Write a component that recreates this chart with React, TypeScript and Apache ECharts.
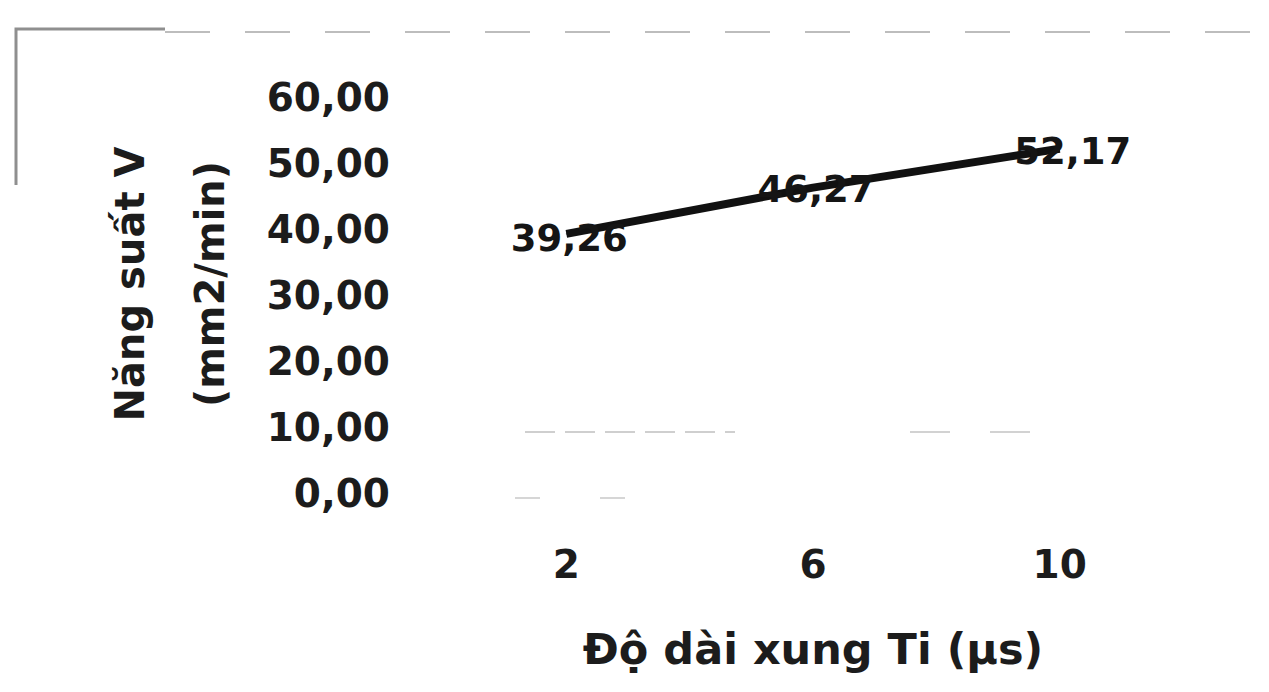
import React, { useEffect, useRef } from "react";
import * as echarts from "echarts";

// Pulse duration Ti (µs) and machining productivity V (mm2/min)
const categories: string[] = ["2", "6", "10"];
const productivity: number[] = [39.26, 46.27, 52.17];

const yMin = 0;
const yMax = 60;
const yStep = 10;

// per-point nudges for the value labels, in pixels
const labelOffsets: [number, number][] = [
  [3, 5],
  [3, 2],
  [13, 3],
];

const FONT = "DejaVu Sans";
const INK = "#1c1c1c";

const fmt = (v: number) => v.toFixed(2).replace(".", ",");

export default function App() {
  const ref = useRef<HTMLDivElement>(null);

  useEffect(() => {
    if (!ref.current) return;
    const chart = echarts.init(ref.current, undefined, { renderer: "svg" });
    chart.setOption({
      animation: false,
      backgroundColor: "#ffffff",
      grid: { left: 443, right: 86, top: 97, bottom: 199, containLabel: false },
      xAxis: {
        type: "category",
        data: categories,
        boundaryGap: true,
        axisLine: { show: false },
        axisTick: { show: false },
        splitLine: { show: false },
        axisLabel: {
          margin: 52,
          color: INK,
          fontFamily: FONT,
          fontWeight: "bold",
          fontSize: 39,
        },
        name: "Độ dài xung Ti (µs)",
        nameLocation: "middle",
        nameGap: 134,
        nameTextStyle: {
          color: INK,
          fontFamily: FONT,
          fontWeight: "bold",
          fontSize: 43,
        },
      },
      yAxis: {
        type: "value",
        min: yMin,
        max: yMax,
        interval: yStep,
        axisLine: { show: false },
        axisTick: { show: false },
        splitLine: { show: false },
        axisLabel: {
          margin: 53,
          color: INK,
          fontFamily: FONT,
          fontWeight: "bold",
          fontSize: 39,
          formatter: (v: number) => fmt(v),
        },
        name: "Năng suất V\n(mm2/min)",
        nameLocation: "middle",
        nameGap: 193,
        nameTextStyle: {
          color: INK,
          fontFamily: FONT,
          fontWeight: "bold",
          fontSize: 40,
          lineHeight: 80,
          align: "center",
          padding: [0, 0, 0, 22],
        },
      },
      series: [
        {
          type: "line",
          data: productivity.map((v, i) => ({
            value: v,
            label: { offset: labelOffsets[i] },
          })),
          showSymbol: true,
          symbol: "circle",
          symbolSize: 1,
          itemStyle: { color: "#111111" },
          lineStyle: { color: "#111111", width: 8 },
          label: {
            show: true,
            position: "inside",
            color: "#151515",
            fontFamily: FONT,
            fontWeight: "bold",
            fontSize: 37,
            formatter: (p: any) => fmt(p.value),
          },
          z: 2,
        },
      ],
      graphic: [
        // chart frame corner, top edge and left edge
        {
          type: "polyline",
          shape: { points: [[16, 185], [16, 29], [165, 29]] },
          style: { stroke: "#8f8f8f", lineWidth: 3, fill: "none" },
          silent: true,
        },
        {
          type: "line",
          shape: { x1: 165, y1: 32, x2: 1269, y2: 32 },
          style: { stroke: "#bdbdbd", lineWidth: 2, lineDash: [45, 35] },
          silent: true,
        },
        // faint remnants of the lower gridlines
        {
          type: "line",
          shape: { x1: 525, y1: 432, x2: 735, y2: 432 },
          style: { stroke: "#cfcfcf", lineWidth: 2, lineDash: [30, 10] },
          silent: true,
        },
        {
          type: "line",
          shape: { x1: 910, y1: 432, x2: 1045, y2: 432 },
          style: { stroke: "#d2d2d2", lineWidth: 2, lineDash: [40, 40] },
          silent: true,
        },
        {
          type: "line",
          shape: { x1: 515, y1: 498, x2: 665, y2: 498 },
          style: { stroke: "#d6d6d6", lineWidth: 2, lineDash: [25, 60] },
          silent: true,
        },
      ],
    });
    return () => chart.dispose();
  }, []);

  return (
    <div
      ref={ref}
      style={{ position: "fixed", left: 0, top: 0, width: 1269, height: 692 }}
    />
  );
}
